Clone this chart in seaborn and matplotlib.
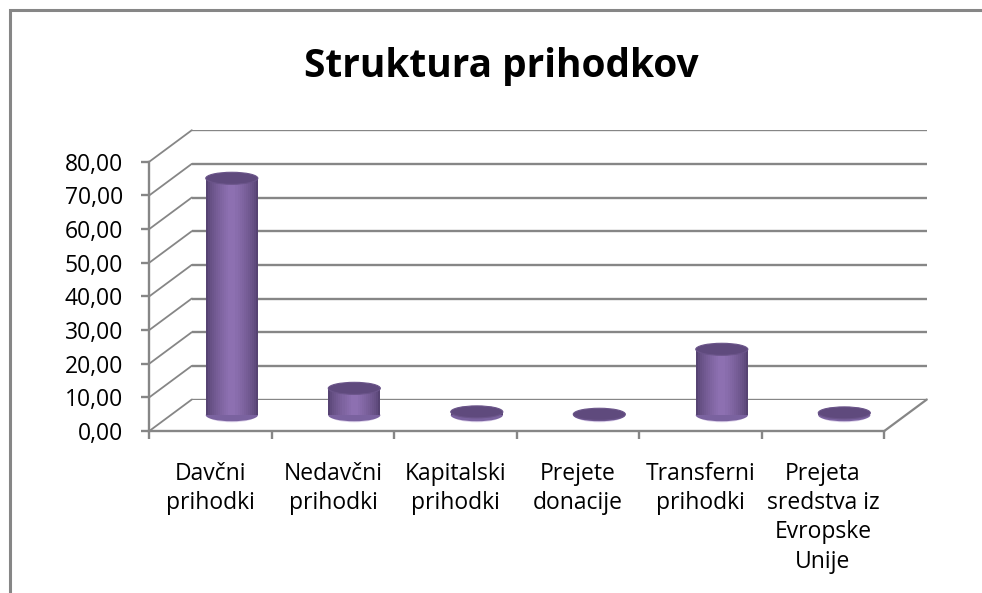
import numpy as np
import pandas as pd
import matplotlib
matplotlib.use("Agg")
import matplotlib.pyplot as plt
import seaborn as sns
from matplotlib.patches import Ellipse, ConnectionPatch, Rectangle
from matplotlib.colors import to_rgb

# ---- data ----
categories = ["Davčni\nprihodki", "Nedavčni\nprihodki", "Kapitalski\nprihodki",
              "Prejete\ndonacije", "Transferni\nprihodki",
              "Prejeta\nsredstva iz\nEvropske\nUnije"]
values = [70.4, 8.0, 1.0, 0.3, 19.6, 0.7]
y_ticks = [0, 10, 20, 30, 40, 50, 60, 70, 80]
y_tick_labels = ["0,00", "10,00", "20,00", "30,00", "40,00", "50,00", "60,00", "70,00", "80,00"]
title = "Struktura prihodkov"

df = pd.DataFrame({"kategorija": categories, "delez": values})

sns.set_theme(style="white")
plt.rcParams["font.family"] = ["Open Sans", "DejaVu Sans"]

W, H = 982, 593
fig = plt.figure(figsize=(W / 100, H / 100), dpi=100)
fig.patch.set_facecolor("white")

GRID = "#868686"

# geometry in pixels (top-left origin)
x0, x1 = 149.3, 884.3
y0, y80 = 431.0, 161.7
DX, DY = 42.5, 31.5


def rect(dx, dy):
    return [(x0 + dx) / W, 1 - (y0 - dy) / H, (x1 - x0) / W, (y0 - y80) / H]


ax_back = fig.add_axes(rect(DX, DY))
ax_bar = fig.add_axes(rect(DX / 2, DY / 2))
ax = fig.add_axes(rect(0, 0))

n = len(categories)
xlim = (-0.5, n - 0.5)
ylim = (0, 80)
for a in (ax_back, ax_bar, ax):
    a.set_xlim(*xlim)
    a.set_ylim(*ylim)
    a.patch.set_alpha(0)
    for s in a.spines.values():
        s.set_visible(False)

# back wall gridlines
ax_back.set_yticks(y_ticks)
ax_back.set_xticks([])
ax_back.tick_params(left=False, labelleft=False)
ax_back.yaxis.grid(True, color=GRID, linewidth=1.7)
ax_back.set_axisbelow(True)

# cylinders (layered bars for shading)
bar_w = 0.425
widths = list(np.linspace(bar_w, 0.06, 12))
c_dark = np.array(to_rgb("#564372"))
c_light = np.array(to_rgb("#8D70B1"))
for i, w in enumerate(widths):
    t = (i / (len(widths) - 1)) ** 0.7
    col = c_dark * (1 - t) + c_light * t
    sns.barplot(data=df, x="kategorija", y="delez", ax=ax_bar, width=w,
                color=col, saturation=1, linewidth=0, edgecolor="none",
                zorder=3, errorbar=None)
ax_bar.set_xlim(*xlim)
ax_bar.set_ylim(*ylim)
ax_bar.set_xticks([])
ax_bar.set_yticks([])
ax_bar.set_xlabel("")
ax_bar.set_ylabel("")

ell_h = 12 / ((y0 - y80) / 80)
for i, v in enumerate(values):
    ax_bar.add_patch(Ellipse((i, -0.3), bar_w * 0.9, ell_h, facecolor="#DCD2EA",
                             edgecolor="none", zorder=1, clip_on=False))
    ax_bar.add_patch(Ellipse((i, 0), bar_w, ell_h, facecolor="#7A629F",
                             edgecolor="none", zorder=2, clip_on=False))
    ax_bar.add_patch(Ellipse((i, v), bar_w, ell_h, facecolor="#5F4A7D",
                             edgecolor="#6A5489", linewidth=0.8, zorder=5,
                             clip_on=False))

# front axes: spines, ticks, labels
ax.spines["left"].set_visible(True)
ax.spines["bottom"].set_visible(True)
ax.spines["left"].set_bounds(0, 80)
for s in ("left", "bottom"):
    ax.spines[s].set_color(GRID)
    ax.spines[s].set_linewidth(1.7)
ax.set_yticks(y_ticks)
ax.set_yticklabels(y_tick_labels)
ax.set_xticks(range(n))
ax.set_xticklabels(categories, linespacing=1.3)
ax.set_xticks(np.arange(-0.5, n, 1.0), minor=True)
ax.tick_params(axis="y", left=True, direction="out", length=6, width=1.7,
               color=GRID, labelsize=16.5, labelcolor="black", pad=13)
ax.tick_params(axis="x", which="major", bottom=False, labelsize=16.5,
               labelcolor="black", pad=16)
ax.tick_params(axis="x", which="minor", bottom=True, direction="out",
               length=6, width=1.7, color=GRID)
ax.grid(False)

# side wall / floor diagonals
for v in y_ticks:
    con = ConnectionPatch(xyA=(-0.5, v), coordsA=ax.transData,
                          xyB=(-0.5, v), coordsB=ax_back.transData,
                          color=GRID, linewidth=1.3)
    fig.add_artist(con)
con = ConnectionPatch(xyA=(n - 0.5, 0), coordsA=ax.transData,
                      xyB=(n - 0.5, 0), coordsB=ax_back.transData,
                      color=GRID, linewidth=1.6)
fig.add_artist(con)

# title
fig.text(501.5 / W, 1 - 77 / H, title, ha="center", va="baseline",
         fontsize=28, fontweight="bold", color="black")

# chart border
fig.add_artist(Rectangle((9.5 / W, -0.1), 1.2, 1 - 10.5 / H + 0.1,
                         transform=fig.transFigure, fill=False,
                         edgecolor=GRID, linewidth=2.2, clip_on=False))

fig.savefig("out.png", dpi=100, facecolor="white")
